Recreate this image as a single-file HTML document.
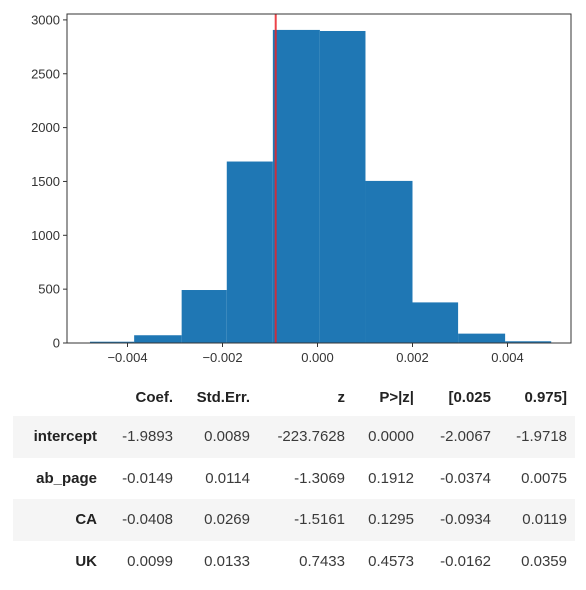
<!DOCTYPE html>
<html><head><meta charset="utf-8"><style>
body{margin:0;width:586px;height:590px;background:#fff;font-family:"Liberation Sans",sans-serif;overflow:hidden;position:relative}
svg{position:absolute;left:0;top:0}
.tbl{position:absolute;left:13px;top:380px;width:562px}
.row{position:absolute;left:0;width:562px;height:42px}
.row span{position:absolute;top:0;line-height:42px;font-size:15px;color:#3a3a3a;text-align:right;white-space:nowrap}
.row span.l{font-weight:bold;color:#222}
.sh{background:#f5f5f5}
</style></head><body>
<svg width="586" height="375">
<g id="bars"></g>
<g id="axes"></g>
</svg>
<div class="tbl" id="tbl"></div>
<script>
const binEdges=[-0.00479,-0.00386,-0.00286,-0.00191,-0.00094,0.00005,0.00101,0.00200,0.00296,0.00395,0.00492];
const counts=[12,72,492,1685,2907,2897,1505,377,87,16];
const xTicks=[-0.004,-0.002,0,0.002,0.004];
const xTickLabels=["\u22120.004","\u22120.002","0.000","0.002","0.004"];
const yTicks=[0,500,1000,1500,2000,2500,3000];
const obsDiff=-0.00088;
const X=v=>317.5+v*47500, Y=v=>343-v*0.1077;
const NS="http://www.w3.org/2000/svg";
const bars=document.getElementById('bars'), axes=document.getElementById('axes');
function mk(p,t,a){const e=document.createElementNS(NS,t);for(const k in a)e.setAttribute(k,a[k]);p.appendChild(e);return e;}
counts.forEach((c,i)=>{
  const r=mk(bars,'rect',{x:X(binEdges[i]),y:Y(c),width:X(binEdges[i+1])-X(binEdges[i]),height:343-Y(c),fill:'#1f77b4'});
  
  
});
const rl=mk(bars,'line',{x1:X(obsDiff),x2:X(obsDiff),y1:14,y2:343,stroke:'#e8232a','stroke-width':2,opacity:0.85});


const fr=mk(axes,'rect',{x:67,y:14,width:504,height:329,fill:'none',stroke:'#333','stroke-width':1});


xTicks.forEach((v,i)=>{
  mk(axes,'line',{x1:X(v),x2:X(v),y1:343,y2:347,stroke:'#333'});
  const t=mk(axes,'text',{x:X(v),y:362,'text-anchor':'middle','font-size':13,fill:'#333'});
  t.textContent=xTickLabels[i];
  
  
});
yTicks.forEach(v=>{
  mk(axes,'line',{x1:63,x2:67,y1:Y(v),y2:Y(v),stroke:'#333'});
  const t=mk(axes,'text',{x:60,y:Y(v)+4.5,'text-anchor':'end','font-size':13,fill:'#333'});
  t.textContent=v;
  
  
});
const rights=[84,160,237,332,401,478,554];
const header=["","Coef.","Std.Err.","z","P>|z|","[0.025","0.975]"];
const rows=[
["intercept","-1.9893","0.0089","-223.7628","0.0000","-2.0067","-1.9718"],
["ab_page","-0.0149","0.0114","-1.3069","0.1912","-0.0374","0.0075"],
["CA","-0.0408","0.0269","-1.5161","0.1295","-0.0934","0.0119"],
["UK","0.0099","0.0133","0.7433","0.4573","-0.0162","0.0359"]];
const tbl=document.getElementById('tbl');
function addRow(cells,top,cls,isHead){
  const r=document.createElement('div');r.className='row '+cls;r.style.top=top+'px';
  
  
  cells.forEach((c,i)=>{const s=document.createElement('span');
    if(i==0||isHead)s.className='l';
    s.style.right=(562-rights[i])+'px';s.textContent=c;r.appendChild(s);});
  tbl.appendChild(r);
}
addRow(header,-3,'',true);
rows.forEach((r,i)=>addRow(r,36+i*41.7,i%2==0?'sh':'',false));
</script>
</body></html>
